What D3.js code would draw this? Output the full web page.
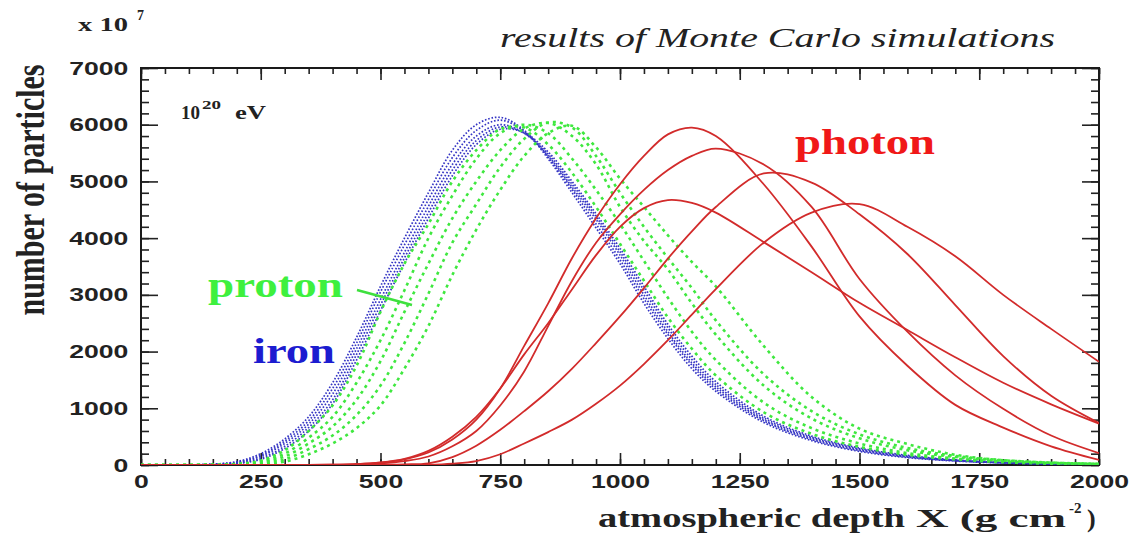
<!DOCTYPE html>
<html>
<head>
<meta charset="utf-8">
<script src="https://cdn.jsdelivr.net/npm/d3@7"></script>
<style>
  body { margin: 0; background: #fff; }
  svg { display: block; font-family: "Liberation Serif", "Times New Roman", serif; }
  .tick text { font-weight: bold; font-size: 19px; fill: #222; }
  .tick line { stroke: #222; stroke-width: 1.6; }
</style>
</head>
<body>
<svg width="1132" height="538"></svg>
<script>
// atmospheric depth (g cm^-2) at which every curve is sampled
const depthGrid = [0,100,200,250,300,350,400,450,500,550,600,650,700,750,800,850,900,950,1000,1050,1100,1150,1200,1300,1400,1500,1600,1700,1800,1900,2000];

// number of particles (x 10^7)
const ironCurves = [
  [0,0,60,200,460,850,1450,2250,3150,4000,4800,5550,6000,6130,5900,5400,4800,4180,3550,2850,2230,1700,1300,750,430,240,130,70,35,18,8],
  [0,0,50,170,420,780,1350,2150,3050,3880,4680,5420,5900,6080,5880,5430,4860,4250,3620,2930,2300,1760,1340,780,450,255,140,75,38,19,9],
  [0,0,40,150,380,720,1250,2050,2920,3750,4560,5300,5800,6000,5850,5450,4900,4330,3700,3000,2350,1800,1380,800,470,270,150,80,40,20,10],
  [0,0,30,120,330,660,1150,1950,2820,3650,4450,5200,5720,5960,5850,5480,4950,4380,3760,3080,2420,1860,1420,830,490,285,160,85,42,21,11],
  [0,0,25,100,290,600,1080,1850,2720,3560,4350,5100,5650,5920,5860,5520,5000,4430,3820,3150,2480,1920,1470,860,510,300,170,90,45,22,12]
];
const protonCurves = [
  [0,0,20,80,260,600,1050,1750,2700,3550,4250,5000,5550,5920,5950,5650,5150,4550,3900,3250,2600,2050,1580,930,550,320,180,100,50,25,12],
  [0,0,15,60,200,480,850,1450,2200,3080,4000,4750,5400,5850,6000,5850,5400,4850,4250,3600,2950,2350,1850,1100,650,380,210,115,60,30,15],
  [0,0,10,40,150,380,680,1150,1830,2700,3550,4350,5000,5550,5930,6030,5800,5300,4550,3950,3450,2850,2300,1400,820,470,260,140,75,38,18],
  [0,0,5,25,100,280,520,880,1400,2150,3020,3920,4600,5250,5750,6040,5950,5450,4800,4200,3650,3120,2550,1600,950,540,300,160,85,42,20],
  [0,0,3,15,60,190,380,650,1050,1700,2450,3350,4150,4850,5450,5850,5980,5600,5050,4550,4050,3580,3150,2100,1200,640,370,180,85,40,18]
];
const photonCurves = [
  [0,0,0,0,0,2,5,15,40,100,220,450,800,1350,2100,2850,3650,4350,4950,5450,5830,5950,5800,4950,3850,2620,1750,1060,660,330,90],
  [0,0,0,0,0,0,3,10,30,70,150,330,600,1050,1650,2450,3250,3920,4420,4850,5200,5450,5580,5300,4550,3280,2350,1580,990,520,210],
  [0,0,0,0,0,0,5,15,45,110,250,500,850,1350,1950,2500,3100,3700,4200,4530,4670,4620,4450,3930,3400,2860,2380,1900,1450,1070,730],
  [0,0,0,0,0,0,0,0,5,12,30,140,340,620,950,1300,1700,2150,2620,3120,3640,4120,4550,5140,4980,4420,3720,2820,1920,1220,740],
  [0,0,0,0,0,0,0,0,0,0,5,25,70,190,380,580,800,1080,1400,1780,2200,2650,3100,3920,4450,4600,4200,3680,3000,2400,1820]
];

const xMajorTicks = [0,250,500,750,1000,1250,1500,1750,2000];
const yMajorTicks = [0,1000,2000,3000,4000,5000,6000,7000];

const svg = d3.select("svg");
const plotLeft = 141, plotRight = 1099, plotTop = 68, plotBottom = 465;

const x = d3.scaleLinear().domain([0, 2000]).range([plotLeft, plotRight]);
const y = d3.scaleLinear().domain([0, 7000]).range([plotBottom, plotTop]);

svg.append("defs").append("clipPath").attr("id", "plot")
  .append("rect").attr("x", plotLeft).attr("y", plotTop)
  .attr("width", plotRight - plotLeft).attr("height", plotBottom - plotTop);

// the source picture is squeezed vertically, so text comes out wide
const wide = "scale(1.4,1)";

function axisGroup(axis, tx, ty) {
  const g = svg.append("g").attr("transform", `translate(${tx},${ty})`).call(axis);
  g.select(".domain").remove();
  return g;
}

// minor ticks
axisGroup(d3.axisBottom(x).tickValues(d3.range(0, 2001, 50)).tickSize(-6).tickFormat(""), 0, plotBottom);
axisGroup(d3.axisTop(x).tickValues(d3.range(0, 2001, 50)).tickSize(-6).tickFormat(""), 0, plotTop);
axisGroup(d3.axisLeft(y).tickValues(d3.range(0, 7001, 200)).tickSize(-8).tickFormat(""), plotLeft, 0);
axisGroup(d3.axisRight(y).tickValues(d3.range(0, 7001, 200)).tickSize(-8).tickFormat(""), plotRight, 0);

// major ticks with labels
axisGroup(d3.axisBottom(x).tickValues(xMajorTicks).tickFormat(d3.format("d")).tickSize(-12).tickPadding(10), 0, plotBottom)
  .selectAll("text").attr("transform", wide);
axisGroup(d3.axisTop(x).tickValues(xMajorTicks).tickSize(-12).tickFormat(""), 0, plotTop);
axisGroup(d3.axisLeft(y).tickValues(yMajorTicks).tickFormat(d3.format("d")).tickSize(-17).tickPadding(9), plotLeft, 0)
  .selectAll("text").attr("transform", wide);
axisGroup(d3.axisRight(y).tickValues(yMajorTicks).tickSize(-17).tickFormat(""), plotRight, 0);

svg.append("rect")
  .attr("x", plotLeft).attr("y", plotTop)
  .attr("width", plotRight - plotLeft).attr("height", plotBottom - plotTop)
  .attr("fill", "none").attr("stroke", "#1a1a1a").attr("stroke-width", 2);

const line = d3.line()
  .x((d, i) => x(depthGrid[i]))
  .y(d => y(Math.max(d, 0)))
  .curve(d3.curveCatmullRom.alpha(0.5));

const curves = svg.append("g").attr("clip-path", "url(#plot)");

curves.selectAll(".iron").data(ironCurves).enter().append("path")
  .attr("class", "iron").attr("d", line)
  .attr("fill", "none").attr("stroke", "#3535c4").attr("stroke-width", 1.7)
  .attr("stroke-dasharray", "1.6,1.8");

curves.selectAll(".proton").data(protonCurves).enter().append("path")
  .attr("class", "proton").attr("d", line)
  .attr("fill", "none").attr("stroke", "#3fe83f").attr("stroke-width", 2.6)
  .attr("stroke-dasharray", "3,4");

curves.selectAll(".photon").data(photonCurves).enter().append("path")
  .attr("class", "photon").attr("d", line)
  .attr("fill", "none").attr("stroke", "#d22b2b").attr("stroke-width", 1.8);

// texts
svg.append("text").attr("x", 500).attr("y", 47)
  .attr("font-size", 27).attr("font-style", "italic").attr("fill", "#222")
  .attr("textLength", 555).attr("lengthAdjust", "spacingAndGlyphs")
  .text("results of Monte Carlo simulations");

svg.append("text").attr("x", 78).attr("y", 31)
  .attr("font-size", 18).attr("font-weight", "bold").attr("fill", "#222")
  .attr("textLength", 50).attr("lengthAdjust", "spacingAndGlyphs").text("x 10");
svg.append("text").attr("x", 137).attr("y", 20)
  .attr("font-size", 14).attr("font-weight", "bold").attr("fill", "#222").text("7");

svg.append("text").attr("x", 181).attr("y", 119)
  .attr("font-size", 18).attr("font-weight", "bold").attr("fill", "#222")
  .attr("textLength", 19).attr("lengthAdjust", "spacingAndGlyphs").text("10");
svg.append("text").attr("x", 202).attr("y", 109)
  .attr("font-size", 13).attr("font-weight", "bold").attr("fill", "#222")
  .attr("textLength", 19).attr("lengthAdjust", "spacingAndGlyphs").text("20");
svg.append("text").attr("x", 235).attr("y", 119)
  .attr("font-size", 18).attr("font-weight", "bold").attr("fill", "#222")
  .attr("textLength", 31).attr("lengthAdjust", "spacingAndGlyphs").text("eV");

svg.append("text").attr("x", 795).attr("y", 154)
  .attr("font-size", 36).attr("font-weight", "bold").attr("fill", "#f01818")
  .attr("textLength", 140).attr("lengthAdjust", "spacingAndGlyphs").text("photon");

svg.append("text").attr("x", 208).attr("y", 297)
  .attr("font-size", 36).attr("font-weight", "bold").attr("fill", "#3ef03e")
  .attr("textLength", 135).attr("lengthAdjust", "spacingAndGlyphs").text("proton");
svg.append("line").attr("x1", 357).attr("y1", 290).attr("x2", 412).attr("y2", 305)
  .attr("stroke", "#3ee03e").attr("stroke-width", 2.5);

svg.append("text").attr("x", 253).attr("y", 363)
  .attr("font-size", 36).attr("font-weight", "bold").attr("fill", "#1c1cd0")
  .attr("textLength", 82).attr("lengthAdjust", "spacingAndGlyphs").text("iron");

svg.append("g").attr("transform", "translate(44,190) scale(1.3,1) rotate(-90)")
  .append("text").attr("text-anchor", "middle")
  .attr("font-size", 30).attr("font-weight", "bold").attr("fill", "#222")
  .text("number of particles");

svg.append("text").attr("x", 598).attr("y", 527)
  .attr("font-size", 28).attr("font-weight", "bold").attr("fill", "#222")
  .attr("textLength", 307).attr("lengthAdjust", "spacingAndGlyphs").text("atmospheric depth");
svg.append("text").attr("x", 916).attr("y", 527)
  .attr("font-size", 26).attr("font-weight", "bold").attr("fill", "#222")
  .attr("textLength", 150).attr("lengthAdjust", "spacingAndGlyphs").text("X (g cm");
svg.append("text").attr("x", 1069).attr("y", 513)
  .attr("font-size", 15).attr("font-weight", "bold").attr("fill", "#222").text("-2");
svg.append("text").attr("x", 1087).attr("y", 527)
  .attr("font-size", 26).attr("font-weight", "bold").attr("fill", "#222").text(")");
</script>
</body>
</html>
